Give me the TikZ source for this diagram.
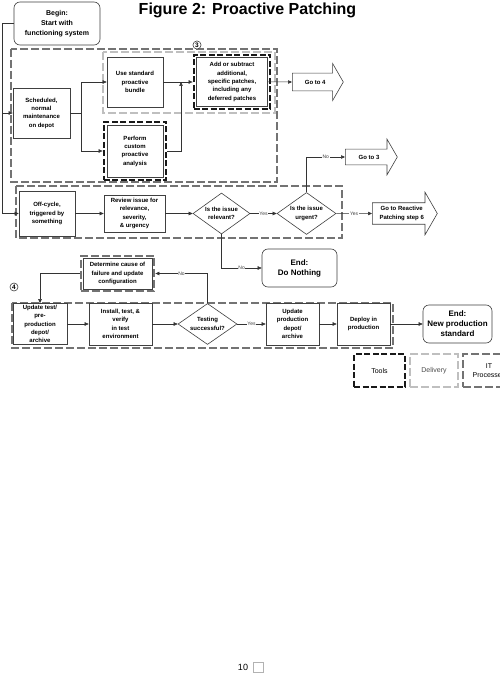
\documentclass[tikz,border=0pt]{standalone}
\usepackage{fontspec}
\setmainfont{Liberation Sans}
\usetikzlibrary{arrows.meta,positioning,fit,shapes.geometric,shapes.arrows}

\begin{document}
\begin{tikzpicture}[x=1pt, y=-1pt,
  font=\fontsize{6}{8.3}\selectfont\bfseries,
  box/.style={draw=black!75, line width=0.6pt, fill=white, align=center,
              inner sep=1pt},
  endbox/.style={box, rounded corners=6pt,
              font=\fontsize{8}{10}\selectfont\bfseries},
  decision/.style={diamond, draw=black!75, line width=0.6pt, fill=white,
              align=center, inner sep=0pt, aspect=1.4},
  goto/.style={single arrow, draw=black!75, line width=0.6pt, fill=white,
              align=center, single arrow tip angle=120, anchor=tail},
  tools/.style={draw=black!90, line width=2.2pt, dash pattern=on 6pt off 2.5pt},
  delivery/.style={draw=black!25, line width=2pt, dash pattern=on 8pt off 3pt},
  itproc/.style={draw=black!55, line width=2.2pt, dash pattern=on 8pt off 3pt},
  legend/.style={minimum width=#1, minimum height=33pt, align=center,
              font=\fontsize{7}{8.5}\selectfont\mdseries},
  line/.style={draw=black!80, line width=0.5pt},
  arr/.style={line, -{Triangle[length=4pt,width=3.5pt]}},
  yn/.style={font=\fontsize{5}{6}\selectfont\mdseries, fill=white,
             inner sep=0.6pt, text=black!75},
  stepno/.style={circle, draw=black!75, line width=0.6pt, fill=white,
             inner sep=0.8pt, font=\fontsize{6.5}{6.5}\selectfont\bfseries}]
\clip (0,0) rectangle (500,674);
\fill[white] (0,0) rectangle (500,674);

% process frames
\draw[itproc] (11,49) rectangle (277,182);
\draw[delivery] (103,52) rectangle (275,113);
\draw[itproc] (16,186) rectangle (342,238);
\draw[itproc] (12,303) rectangle (393,348);

\node (title) at (247.5,10) {\fontsize{16}{16}\selectfont Figure 2: Proactive Patching};
\node[endbox, minimum width=86pt, minimum height=43pt,
      font=\fontsize{7}{10}\selectfont\bfseries] (begin) at (57,23.5)
      {Begin:\\Start with\\functioning system};

% scheduled maintenance
\node[box, minimum width=57pt, minimum height=50pt] (sched) at (41.5,113)
      {Scheduled,\\normal\\maintenance\\on depot};
\node[box, minimum width=56pt, minimum height=50pt] (bundle) at (135,82)
      {Use standard\\proactive\\bundle};
\node[box, minimum width=56pt, minimum height=52pt] (custom) at (135,151)
      {Perform\\custom\\proactive\\analysis};
\node[tools, fit=(custom), inner sep=3pt] (customT) {};
\node[box, minimum width=71pt, minimum height=49pt] (add) at (232,82)
      {Add or subtract\\additional,\\specific patches,\\including any\\deferred patches};
\node[tools, fit=(add), inner sep=2.5pt] (addT) {};
\node[stepno] (s3) at (197,45) {3};
\node[goto, minimum height=51pt, inner ysep=6.5pt,
      single arrow head extend=9.5pt] (go4) at (292,82) {Go to 4};

% off-cycle
\node[box, minimum width=56pt, minimum height=45pt] (offc) at (47,213.5)
      {Off-cycle,\\triggered by\\something};
\node[box, minimum width=61pt, minimum height=37pt] (review) at (134.5,213.5)
      {Review issue for\\relevance,\\severity,\\\& urgency};
\node[decision, minimum width=57pt, minimum height=41pt] (rel) at (221.5,213.5)
      {Is the issue\\relevant?};
\node[decision, minimum width=59pt, minimum height=42pt] (urg) at (306.5,213.5)
      {Is the issue\\urgent?};
\node[goto, minimum height=52pt, inner ysep=5.5pt,
      single arrow head extend=10pt] (go3) at (345,157) {Go to 3};
\node[goto, minimum height=65pt, inner ysep=3.5pt,
      single arrow head extend=10.5pt] (react) at (372,213.5)
      {Go to Reactive\\Patching step 6};
\node[endbox, minimum width=75pt, minimum height=38pt] (done) at (299.5,268)
      {End:\\Do Nothing};

% test and deploy
\node[box, minimum width=69pt, minimum height=31pt] (det) at (117.5,273.5)
      {Determine cause of\\failure and update\\configuration};
\node[itproc, fit=(det), inner sep=2pt] (detP) {};
\node[stepno] (s4) at (14,287) {4};
\node[box, minimum width=54pt, minimum height=41pt] (upd) at (40,324)
      {Update test/\\pre-\\production\\depot/\\archive};
\node[box, minimum width=63pt, minimum height=42pt] (inst) at (120.5,324)
      {Install, test, \&\\verify\\in test\\environment};
\node[decision, minimum width=59pt, minimum height=41pt] (test) at (207.5,324)
      {Testing\\successful?};
\node[box, minimum width=53pt, minimum height=42pt] (updp) at (292.5,324)
      {Update\\production\\depot/\\archive};
\node[box, minimum width=53pt, minimum height=42pt] (dep) at (363.5,324)
      {Deploy in\\production};
\node[endbox, minimum width=69pt, minimum height=38pt] (endp) at (457.5,324)
      {End:\\New production\\standard};

% legend
\node[tools, legend=51pt] (lgtools) at (379.5,370.5) {Tools};
\node[delivery, legend=48pt, text=black!70] (lgdeliv) at (434,370.5) {Delivery};
\node[itproc, legend=52pt] (lgproc) at (489,370.5) {IT\\Processes};

\node (pgnum) at (243,667) {\fontsize{9}{9}\selectfont\mdseries 10};
\node[draw=black!30, minimum size=10pt, inner sep=0pt] (pgbox) at (258,667) {};

% connectors
\draw[arr] (begin.west) -- ++(-11,0) coordinate (trunk) |- (offc.west);
\draw[arr] (trunk) |- (sched.west);
\draw[line] (sched.east) -- ++(11,0) coordinate (fork);
\draw[arr] (fork) |- (bundle.west);
\draw[arr] (fork) |- (customT.west);
\draw[arr] (bundle.east) -- (addT.west);
\coordinate (join) at (181,82);
\draw[arr] (customT.east) -| (join);
\draw[arr] (add.east) -- (go4);

\draw[arr] (offc) -- (review);
\draw[arr] (review) -- (rel);
\draw[arr] (rel) -- node[yn]{Yes} (urg);
\draw[arr] (urg.north) |- node[yn, pos=0.75]{No} (go3);
\draw[arr] (urg) -- node[yn]{Yes} (react);
\draw[arr] (rel.south) |- node[yn, pos=0.75]{No} (done);

\draw[arr] (test.north) |- node[yn, pos=0.75]{No} (detP.east);
\draw[arr] (detP.west) -| (upd.north);
\draw[arr] (upd) -- (inst);
\draw[arr] (inst) -- (test);
\draw[arr] (test) -- node[yn]{Yes} (updp);
\draw[arr] (updp) -- (dep);
\draw[arr] (dep) -- (endp);
\end{tikzpicture}
\end{document}
